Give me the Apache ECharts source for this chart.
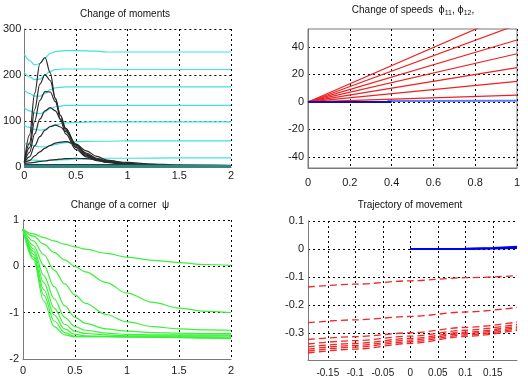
<!DOCTYPE html>
<html><head><meta charset="utf-8">
<script src="https://cdn.jsdelivr.net/npm/echarts@6/dist/echarts.min.js"></script>
<style>html,body{margin:0;padding:0;background:#fff}#c{width:528px;height:383px}</style>
</head><body><div id="c"></div>
<script>
// ---------- DATA ----------
// Panel 1: Change of moments
const momentX = [0, 0.05, 0.1, 0.15, 0.2, 0.25, 0.3, 0.35, 0.4, 0.5, 0.6, 0.7, 0.8, 1.0, 1.2, 1.5, 1.8, 2.0];
const blackMoments = [
  [10, 70, 160, 225, 238, 205, 148, 102, 72, 38, 22, 14, 10, 6, 4, 3, 2, 2],
  [10, 52, 125, 180, 201, 188, 150, 112, 80, 42, 24, 15, 10, 6, 4, 3, 2, 2],
  [10, 42, 100, 145, 164, 163, 142, 112, 84, 45, 26, 16, 11, 6, 4, 3, 2, 2],
  [10, 32, 72, 104, 122, 129, 122, 104, 84, 48, 28, 17, 11, 6, 4, 3, 2, 2],
  [10, 22, 46, 66, 80, 88, 91, 87, 77, 50, 30, 19, 12, 7, 4, 3, 2, 2],
  [10, 14, 24, 33, 41, 47, 52, 54, 55, 49, 35, 23, 15, 8, 5, 3, 2, 2],
  [8, 9, 10, 12, 13, 15, 16, 17, 18, 19, 18, 16, 14, 10, 7, 4, 3, 2],
  [5, 5, 5, 5, 5, 5, 5, 5, 5, 5, 5, 5, 5, 5, 5, 4, 4, 3]
];
const cyanX = [0, 0.05, 0.1, 0.15, 0.2, 0.25, 0.3, 0.4, 0.5, 0.7, 0.8, 1.0, 1.5, 2.0];
const cyanMoments = [
  [245, 232, 222, 225, 237, 247, 251, 253, 253, 252, 250, 250, 250, 250],
  [205, 196, 190, 191, 200, 208, 212, 213, 213, 213, 212, 212, 212, 212],
  [167, 160, 154, 154, 160, 168, 172, 174, 174, 174, 174, 174, 174, 174],
  [129, 122, 117, 116, 120, 127, 131, 134, 134, 134, 134, 134, 134, 134],
  [91, 86, 82, 80, 82, 87, 92, 96, 97, 98, 98, 98, 98, 98],
  [52, 49, 46, 44, 44, 46, 49, 53, 55, 56, 56, 57, 57, 57],
  [16, 15, 15, 14, 14, 15, 15, 16, 17, 18, 19, 19, 20, 20]
];
const tealBaseX = [0, 2];
const tealBase = [1.5, 1.5];
const momentXTicks = [0, 0.5, 1, 1.5, 2];
const momentYTicks = [0, 100, 200, 300];

// Panel 2: Change of speeds
const speedX = [0, 1];
const speedRed = [[0, 5], [0, 15], [0, 25], [0, 35], [0, 45], [0, 56], [0, 66]];
const speedBlueX = [0, 0.4];
const speedBlue = [0, 0];
const speedLightBlueX = [0.38, 1];
const speedLightBlue = [0.6, 0.8];
const speedXTicks = [0, 0.2, 0.4, 0.6, 0.8, 1];
const speedYTicks = [-40, -20, 0, 20, 40];

// Panel 3: Change of a corner psi
const cornerX = [0, 0.1, 0.2, 0.3, 0.4, 0.5, 0.6, 0.8, 1.0, 1.25, 1.5, 1.75, 2.0];
const greenCorners = [
  [0.8, 0.7, 0.62, 0.55, 0.48, 0.42, 0.37, 0.28, 0.2, 0.13, 0.08, 0.04, 0.02],
  [0.8, 0.65, 0.48, 0.3, 0.14, 0.0, -0.12, -0.35, -0.58, -0.78, -0.9, -0.97, -1.0],
  [0.8, 0.55, 0.25, -0.08, -0.38, -0.62, -0.8, -1.04, -1.2, -1.3, -1.35, -1.37, -1.38],
  [0.8, 0.45, 0.02, -0.44, -0.85, -1.1, -1.23, -1.35, -1.4, -1.43, -1.44, -1.45, -1.45],
  [0.8, 0.38, -0.2, -0.7, -1.1, -1.3, -1.38, -1.44, -1.47, -1.48, -1.48, -1.48, -1.48],
  [0.8, 0.32, -0.35, -0.9, -1.25, -1.4, -1.45, -1.48, -1.5, -1.5, -1.5, -1.5, -1.5],
  [0.8, 0.26, -0.5, -1.05, -1.35, -1.47, -1.5, -1.51, -1.52, -1.52, -1.52, -1.52, -1.53],
  [0.8, 0.2, -0.62, -1.18, -1.43, -1.51, -1.52, -1.52, -1.52, -1.53, -1.53, -1.54, -1.55],
  [0.8, 0.15, -0.75, -1.3, -1.48, -1.52, -1.52, -1.52, -1.53, -1.53, -1.54, -1.55, -1.56]
];
const cornerXTicks = [0, 0.5, 1, 1.5, 2];
const cornerYTicks = [-2, -1, 0, 1];

// Panel 4: Trajectory of movement
const trajX = [-0.186, -0.1, 0, 0.1, 0.194];
const trajRed = [
  [-0.135, -0.125, -0.113, -0.102, -0.095],
  [-0.262, -0.252, -0.240, -0.224, -0.208],
  [-0.322, -0.312, -0.298, -0.279, -0.260],
  [-0.338, -0.326, -0.310, -0.289, -0.268],
  [-0.348, -0.336, -0.318, -0.296, -0.274],
  [-0.356, -0.343, -0.324, -0.301, -0.279],
  [-0.363, -0.349, -0.330, -0.306, -0.284],
  [-0.370, -0.356, -0.336, -0.311, -0.289]
];
const trajBlueX = [0, 0.1, 0.15, 0.194];
const trajBlue = [
  [0, 0, 0.002, 0.004],
  [0, 0.001, 0.004, 0.008]
];
const trajXTicks = [-0.15, -0.1, -0.05, 0, 0.05, 0.1, 0.15];
const trajYTicks = [-0.3, -0.2, -0.1, 0, 0.1];

// ---------- CHART ----------
const FONT = '"Liberation Sans Narrow", "Liberation Sans", Arial, sans-serif';
const chart = echarts.init(document.getElementById('c'), null, {renderer: 'canvas'});

function axis(gridIndex, min, max, ticks, margin, fontSize) {
  return {
    type: 'value', gridIndex, min, max, scale: false,
    axisLine: {show: true, onZero: false, lineStyle: {color: '#7a7a7a', width: 1}},
    axisTick: {show: false, customValues: ticks},
    axisLabel: {customValues: ticks, color: '#1a1a1a', fontFamily: FONT, fontSize: fontSize || 11, margin},
    splitLine: {show: true, lineStyle: {color: '#000', type: [2, 3], width: 1}}
  };
}
function line(gi, xs, ys, color, extra) {
  return Object.assign({
    type: 'line', xAxisIndex: gi, yAxisIndex: gi,
    data: xs.map((x, i) => [x, ys[i]]),
    showSymbol: false, symbol: 'none', silent: true, animation: false,
    smooth: 0.35, smoothMonotone: 'x',
    lineStyle: {color, width: 1.2}
  }, extra || {});
}

const series = [];
cyanMoments.forEach(c => series.push(line(0, cyanX, c, '#3fe3dc')));
blackMoments.forEach(c => series.push(line(0, momentX, c, '#2a2a2a')));
series.push(line(0, tealBaseX, tealBase, '#2b8a86', {lineStyle: {color: '#2b8a86', width: 3}}));

speedRed.forEach(c => series.push(line(1, speedX, c, '#f02020', {smooth: false})));
series.push(line(1, speedLightBlueX, speedLightBlue, '#5a7cff', {smooth: false, lineStyle: {color: '#5a7cff', width: 2}}));
series.push(line(1, speedBlueX, speedBlue, '#1010b0', {smooth: false, lineStyle: {color: '#1010b0', width: 2}}));

greenCorners.forEach(c => series.push(line(2, cornerX, c, '#3cf03c')));

trajRed.forEach(c => series.push(line(3, trajX, c, '#f02828', {smooth: 0.3, lineStyle: {color: '#f02828', width: 1.3, type: [7, 4]}})));
trajBlue.forEach(c => series.push(line(3, trajBlueX, c, '#0000f0', {smooth: false, lineStyle: {color: '#0000f0', width: 2}})));

function title(x, y, text, rich) {
  return {type: 'text', x, y, silent: true,
    style: {text, align: 'center', verticalAlign: 'middle', fill: '#111',
      font: '10px ' + FONT, rich: rich || undefined}};
}

chart.setOption({
  backgroundColor: '#fff',
  animation: false,
  grid: [
    {left: 23, top: 29, width: 208, height: 138},
    {left: 308, top: 29, width: 209, height: 139, show: true, borderColor: '#7a7a7a', borderWidth: 1},
    {left: 23, top: 220, width: 208, height: 139},
    {left: 308, top: 221, width: 209, height: 139}
  ],
  xAxis: [
    axis(0, 0, 2, momentXTicks, 3),
    axis(1, 0, 1, speedXTicks, 9),
    axis(2, 0, 2, cornerXTicks, 6),
    axis(3, -0.186, 0.194, trajXTicks, 8, 10)
  ],
  yAxis: [
    axis(0, 0, 300, momentYTicks, 3),
    axis(1, -48, 53, speedYTicks, 4),
    axis(2, -2, 1, cornerYTicks, 4),
    axis(3, -0.395, 0.1, trajYTicks, 4)
  ],
  graphic: [
    title(125, 14, 'Change of moments'),
    title(413, 10, 'Change of speeds  {g|ϕ}{s|11}, {g|ϕ}{s|12},', {
      g: {fontSize: 11, fontFamily: FONT, fill: '#111'},
      s: {fontSize: 7, fontFamily: FONT, fill: '#111', padding: [7, 0, 0, 0], verticalAlign: 'bottom'}
    }),
    title(120, 205, 'Change of a corner  ψ'),
    title(410, 205, 'Trajectory of movement')
  ],
  series
});
</script></body></html>
